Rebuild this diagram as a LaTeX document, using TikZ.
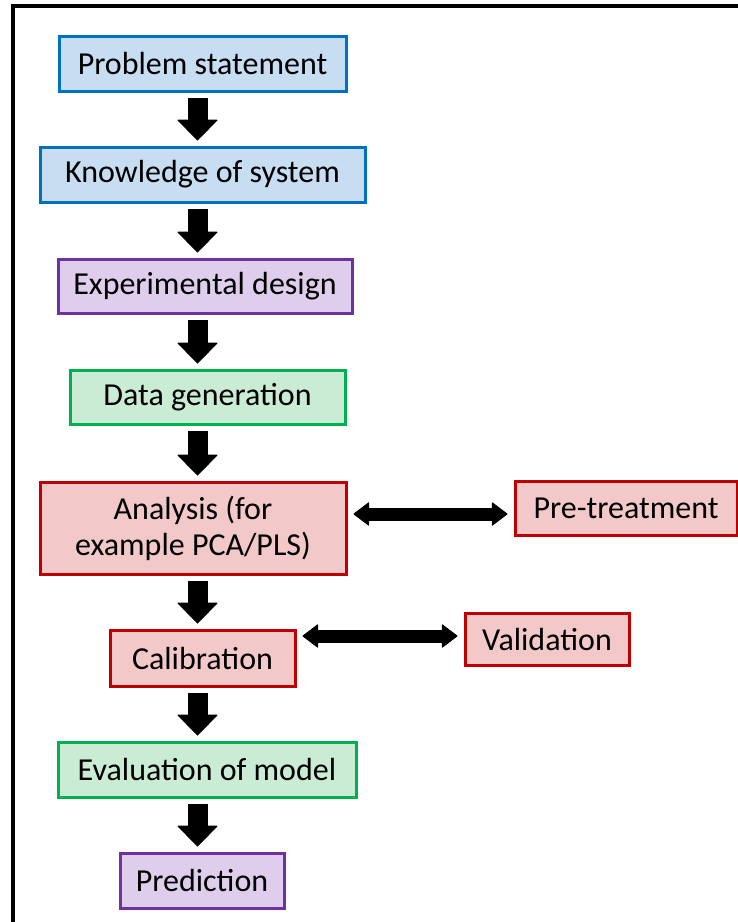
\documentclass[tikz,border=0pt]{standalone}
\usepackage{fontspec}
\setmainfont{Carlito}
\usepackage{tikz}
\usetikzlibrary{arrows.meta}

\definecolor{blueline}{RGB}{0,112,192}
\definecolor{bluefill}{RGB}{198,221,242}
\definecolor{redline}{RGB}{192,0,0}
\definecolor{redfill}{RGB}{242,200,200}
\definecolor{purpleline}{RGB}{112,48,160}
\definecolor{purplefill}{RGB}{222,206,236}
\definecolor{greenline}{RGB}{0,176,80}
\definecolor{greenfill}{RGB}{202,236,212}

\begin{document}
\begin{tikzpicture}[x=1pt, y=-1pt,
  box/.style={draw, line width=3pt, inner sep=0pt, align=center,
    font=\fontsize{32}{36}\selectfont},
  bluebox/.style={box, draw=blueline, fill=bluefill},
  redbox/.style={box, draw=redline, fill=redfill},
  purplebox/.style={box, draw=purpleline, fill=purplefill},
  greenbox/.style={box, draw=greenline, fill=greenfill},
  downarrow/.style={line width=20pt, -{Triangle[width=41pt, length=21pt, round, line width=1pt]},
    shorten <=5pt, shorten >=5pt},
  bothways/.style={line width=13pt, {Triangle[width=24pt, length=16pt, round, line width=1pt]}-{Triangle[width=24pt, length=16pt, round, line width=1pt]},
    shorten <=6pt, shorten >=6pt}]

\useasboundingbox (0,0) rectangle (738,922);

% draw frame
\draw [line width=3.5pt] (13,922) |- (738,6);

% draw boxes
\node (prob) [bluebox, minimum width=287pt, minimum height=55pt] at (202.5,63.5) {Problem statement};
\node (know) [bluebox, minimum width=325pt, minimum height=55pt] at (202.5,174.5) {Knowledge of system};
\node (expdes) [purplebox, minimum width=294pt, minimum height=54pt] at (205,286) {Experimental design};
\node (datagen) [greenbox, minimum width=275pt, minimum height=54pt] at (207.5,397) {Data generation};
\node (ana) [redbox, minimum width=306pt, minimum height=92pt] at (193,528) {Analysis (for\\example PCA/PLS)};
\node (pre) [redbox, minimum width=222pt, minimum height=54pt] at (626,508) {Pre-treatment};
\node (cal) [redbox, minimum width=185pt, minimum height=56pt] at (202.5,658) {Calibration};
\node (val) [redbox, minimum width=164pt, minimum height=52pt] at (547,639) {Validation};
\node (evalm) [greenbox, minimum width=298pt, minimum height=55pt] at (207,769.5) {Evaluation of model};
\node (pred) [purplebox, minimum width=164pt, minimum height=55pt] at (202,880.5) {Prediction};

% draw arrows
\coordinate (col) at (197.5,0);
\foreach \a/\b in {prob/know, know/expdes, expdes/datagen, datagen/ana, ana/cal, cal/evalm, evalm/pred}
  \draw [downarrow] (\a.south -| col) -- (\b.north -| col);

\draw [bothways] ([yshift=-6pt]pre.west -| ana.east) -- ([yshift=-6pt]pre.west);
\draw [bothways] ([yshift=3pt]val.west -| cal.east) -- ([yshift=3pt]val.west);

\end{tikzpicture}
\end{document}
